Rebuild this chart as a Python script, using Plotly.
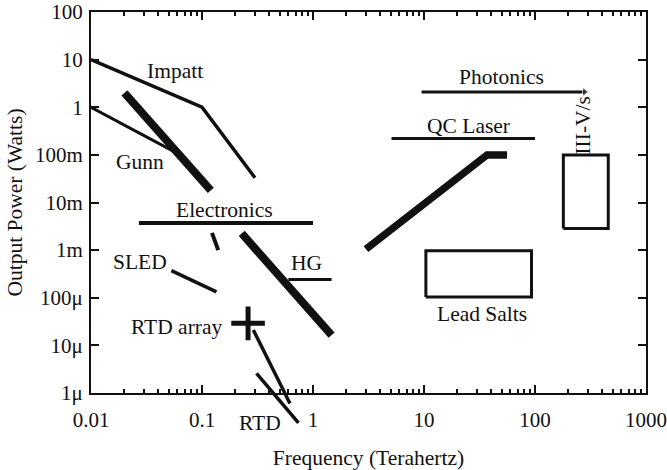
import numpy as np
import plotly.graph_objects as go

# ---------------- data (Frequency in THz, Power in W) ----------------
impatt_x = [0.01, 0.1, 0.3]
impatt_y = [10, 1, 0.033]

gunn_thin_x = [0.01, 0.055]
gunn_thin_y = [1, 0.12]

gunn_x = [0.02, 0.12]
gunn_y = [2, 0.018]

gunn_tail_x = [0.123, 0.14]
gunn_tail_y = [0.0023, 0.001]

electronics_x = [0.027, 1.0]
electronics_y = [0.0037, 0.0037]

hg_x = [0.228, 1.47]
hg_y = [0.00224, 1.64e-5]

hg_thin_x = [0.6, 1.47]
hg_thin_y = [2.42e-4, 2.42e-4]

sled_x = [0.053, 0.135]
sled_y = [3.7e-4, 1.33e-4]

rtd_array_x = [0.26]
rtd_array_y = [2.9e-5]

rtd1_x = [0.29, 0.62]
rtd1_y = [2.1e-5, 6.0e-7]
rtd2_x = [0.31, 0.74]
rtd2_y = [2.57e-6, 2.35e-7]

photonics_x = [9.5, 280]
photonics_y = [2.1, 2.1]

qc_line_x = [5.1, 100]
qc_line_y = [0.22, 0.22]

qc_x = [3.0, 37, 56]
qc_y = [0.00105, 0.1, 0.1]

lead_salts_box = dict(x0=10.4, x1=93, y0=1.04e-4, y1=0.00097)
iiiv_box = dict(x0=180, x1=457, y0=0.00286, y1=0.1)

x_tickvals = [0.01, 0.1, 1, 10, 100, 1000]
x_ticktext = ["0.01", "0.1", "1", "10", "100", "1000"]
y_tickvals = [100, 10, 1, 0.1, 0.01, 1e-3, 1e-4, 1e-5, 1e-6]
y_ticktext = ["100", "10", "1", "100m", "10m", "1m", "100μ", "10μ", "1μ"]

labels = ["Impatt", "Gunn", "Electronics", "SLED", "HG", "RTD array",
          "Photonics", "QC Laser", "Lead Salts"]
label_x = [0.057, 0.0276, 0.161, 0.0276, 0.877, 0.059, 50, 25, 33]
label_y = [5.8, 0.0695, 0.0069, 5.7e-4, 5.25e-4, 2.45e-5, 4.37, 0.40, 4.5e-5]

rtd_label = ("RTD", 0.333, 2.3e-7)
iiiv_label = ("III-V/s", 270, 0.43)

# ---------------- layout geometry ----------------
W, H = 667, 470
ML, MR, MT, MB = 91, 21, 12, 40
plot_h = H - MT - MB
ext_px = 37                      # extension below the main x axis
f = ext_px / plot_h
y_range = [-6, 2]
y2_low = y_range[0] - (y_range[1] - y_range[0]) * f / (1 - f)

FONT = "Liberation Serif, Times New Roman, serif"
FS = 21.5
FT = 21
INK = "#111"

fig = go.Figure()

def line(x, y, w, xa="x", ya="y"):
    fig.add_trace(go.Scatter(x=x, y=y, mode="lines", xaxis=xa, yaxis=ya,
                             line=dict(color=INK, width=w), showlegend=False,
                             hoverinfo="skip"))

line(impatt_x, impatt_y, 3.5)
line(gunn_thin_x, gunn_thin_y, 3)
line(gunn_x, gunn_y, 8)
line(gunn_tail_x, gunn_tail_y, 4)
line(electronics_x, electronics_y, 4)
line(hg_x, hg_y, 8)
line(hg_thin_x, hg_thin_y, 3)
line(sled_x, sled_y, 3.5)
line(qc_line_x, qc_line_y, 3)
line(qc_x, qc_y, 7.5)

# photonics arrow
fig.add_trace(go.Scatter(x=photonics_x, y=photonics_y, mode="lines+markers",
                         line=dict(color=INK, width=3),
                         marker=dict(symbol="triangle-right", size=[0, 8], color=INK),
                         showlegend=False, hoverinfo="skip"))

for b in (lead_salts_box, iiiv_box):
    fig.add_trace(go.Scatter(x=[b["x0"], b["x1"], b["x1"], b["x0"], b["x0"]],
                             y=[b["y0"], b["y0"], b["y1"], b["y1"], b["y0"]],
                             mode="lines", line=dict(color=INK, width=3),
                             showlegend=False, hoverinfo="skip"))

fig.add_trace(go.Scatter(x=rtd_array_x, y=rtd_array_y, mode="markers",
                         marker=dict(symbol="cross-thin", size=24,
                                     line=dict(color=INK, width=5)),
                         showlegend=False, hoverinfo="skip"))

# RTD lines extend below the axis -> drawn on an extended hidden subplot
line(rtd1_x, rtd1_y, 3.5, "x2", "y2")
line(rtd2_x, rtd2_y, 3.5, "x2", "y2")

annotations = []
for t, x, y in zip(labels, label_x, label_y):
    annotations.append(dict(text=t, x=np.log10(x), y=np.log10(y), xref="x", yref="y",
                            showarrow=False, font=dict(family=FONT, size=FS, color=INK)))
annotations.append(dict(text=rtd_label[0], x=np.log10(rtd_label[1]), y=np.log10(rtd_label[2]),
                        xref="x2", yref="y2", showarrow=False,
                        font=dict(family=FONT, size=FS, color=INK)))
annotations.append(dict(text=iiiv_label[0], x=np.log10(iiiv_label[1]), y=np.log10(iiiv_label[2]),
                        xref="x", yref="y", showarrow=False, textangle=-90,
                        font=dict(family=FONT, size=FS, color=INK)))

axis_common = dict(type="log", showgrid=False, zeroline=False, showline=True,
                   linecolor=INK, linewidth=2, mirror="ticks", ticks="inside",
                   ticklen=8, tickwidth=2, tickcolor=INK,
                   tickfont=dict(family=FONT, size=FT, color=INK))

fig.update_layout(
    width=W, height=H,
    margin=dict(l=ML, r=MR, t=MT, b=MB, autoexpand=False),
    paper_bgcolor="white", plot_bgcolor="rgba(0,0,0,0)",
    font=dict(family=FONT, size=FS, color=INK),
    xaxis=dict(**axis_common, range=[-2, 3], domain=[0, 1], anchor="y",
               tickmode="array", tickvals=x_tickvals, ticktext=x_ticktext,
               ticklabelstandoff=7,
               minor=dict(ticks="inside", ticklen=4, tickwidth=1.5, tickcolor=INK, dtick="D1"),
               title=dict(text="Frequency (Terahertz)", standoff=20,
                          font=dict(family=FONT, size=FS, color=INK))),
    yaxis=dict(**axis_common, range=y_range, domain=[f, 1], anchor="x",
               tickmode="array", tickvals=y_tickvals, ticktext=y_ticktext,
               ticklabelstandoff=2,
               title=dict(text="Output Power (Watts)", standoff=6,
                          font=dict(family=FONT, size=FS, color=INK))),
    xaxis2=dict(type="log", range=[-2, 3], domain=[0, 1], anchor="y2", visible=False),
    yaxis2=dict(type="log", range=[y2_low, y_range[1]], domain=[0, 1], anchor="x2", visible=False),
    annotations=annotations,
)

fig.write_html("out.html")
